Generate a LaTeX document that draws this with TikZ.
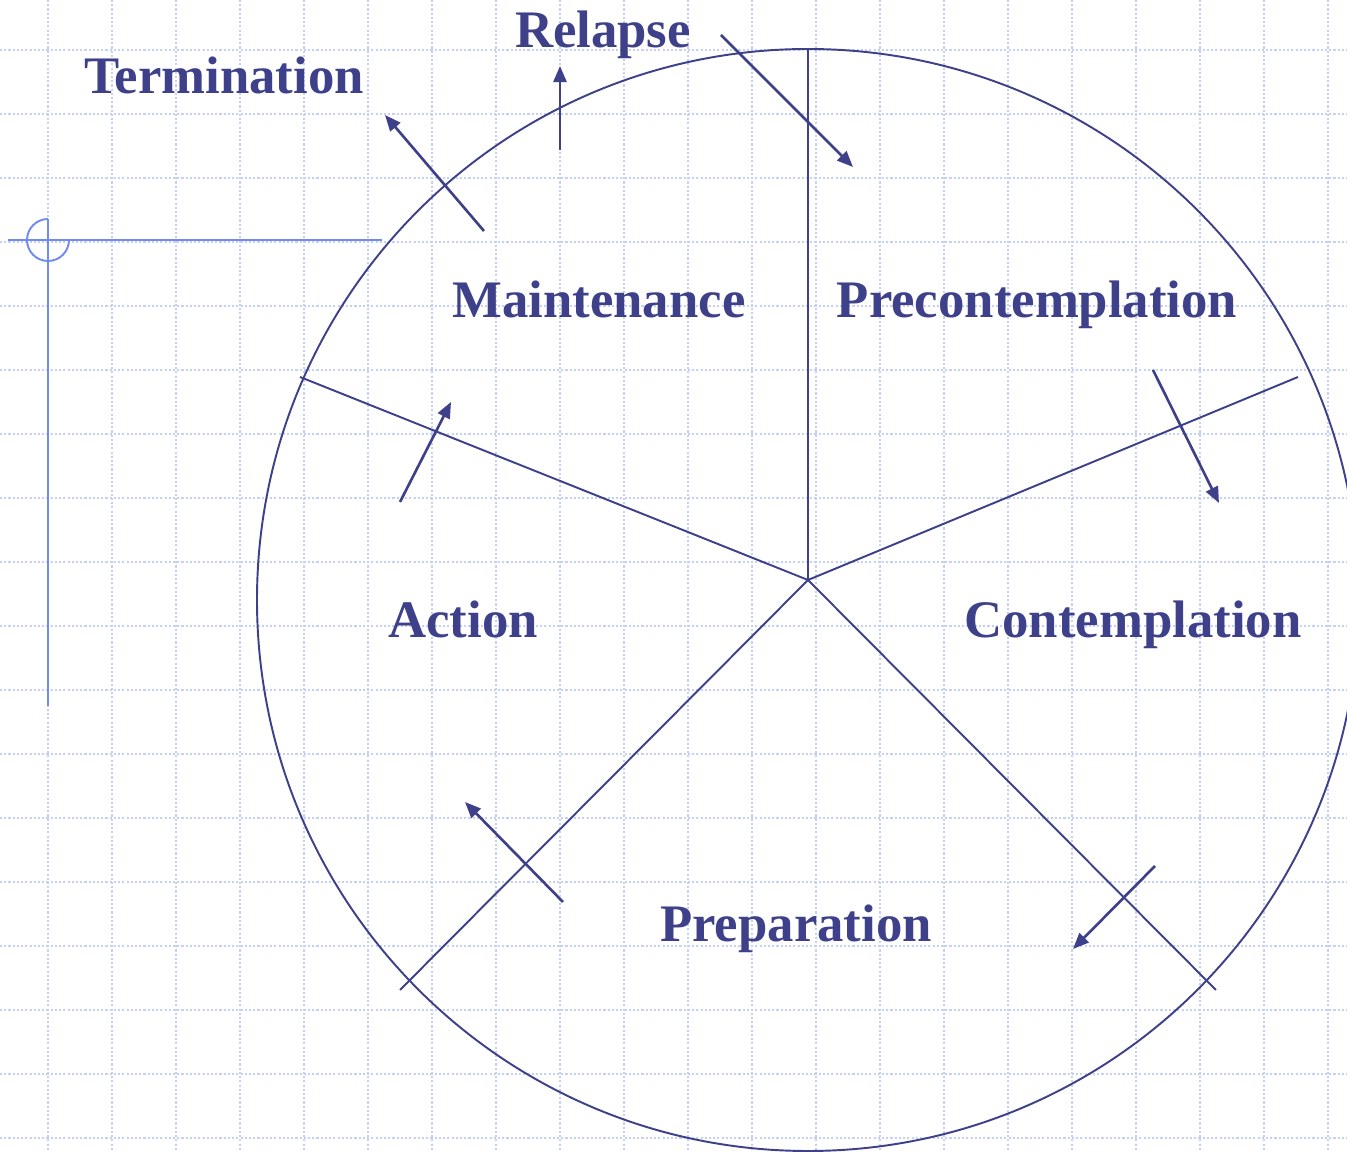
\documentclass[tikz,border=0pt]{standalone}
\usepackage{fontspec}
\setmainfont{Liberation Serif}
\usetikzlibrary{arrows.meta}
\definecolor{navy}{HTML}{3E418A}
\definecolor{gridblue}{HTML}{C4D0F8}
\definecolor{guide}{HTML}{6F8CEE}
\tikzset{
  lbl/.style={font=\fontsize{15pt}{18pt}\selectfont\bfseries, text=navy, anchor=base, inner sep=0pt},
  wheel/.style={draw=navy, line width=0.55pt},
  flow/.style={draw=navy, line width=0.75pt, -{Triangle[length=0.16cm,width=0.13cm]}},
  gridline/.style={draw=gridblue, line width=0.45pt, dash pattern=on 0.6pt off 0.6pt},
  guideline/.style={draw=guide, line width=0.55pt}
}
\begin{document}
\begin{tikzpicture}[x=0.01cm,y=-0.01cm]
\useasboundingbox (0,0) rectangle (1347,1152);
\fill[white] (0,0) rectangle (1347,1152);
\begin{scope}
\clip (0,0) rectangle (1347,1152);
% grid
\foreach \gx in {48,112,...,1340} \draw[gridline] (\gx,0) -- (\gx,1152);
\foreach \gy in {50,114,...,1150} \draw[gridline] (0,\gy) -- (1347,\gy);
% guide
\draw[guideline] (8,240) -- (382,240);
\draw[guideline] (48,219) -- (48,706);
\draw[guideline] (48,219) arc[start angle=-90, end angle=-360, radius=21];
% wheel
\coordinate (hub) at (808,580);
\coordinate (s1) at (808,50);
\coordinate (s2) at (1298,377);
\coordinate (s3) at (1216,990);
\coordinate (s4) at (400,990);
\coordinate (s5) at (300,377);
\draw[wheel] (808,600) circle[radius=551];
\foreach \s in {s1,s2,s3,s4,s5} \draw[wheel] (hub) -- (\s);
\end{scope}
% labels
\node[lbl] (relapse) at (603,48) {Relapse};
\node[lbl] (term) at (224,94) {Termination};
\node[lbl] (maint) at (599,318) {Maintenance};
\node[lbl] (precon) at (1037,318) {Precontemplation};
\node[lbl] (action) at (463,638) {Action};
\node[lbl] (contem) at (1133,638) {Contemplation};
\node[lbl] (prep) at (796,942) {Preparation};
% arrows
\coordinate (a1s) at (560,150); \coordinate (a1e) at (560,66);
\coordinate (a2s) at (484,231); \coordinate (a2e) at (385,115);
\coordinate (a3s) at (721,35);  \coordinate (a3e) at (853,167);
\coordinate (a4s) at (1153,370); \coordinate (a4e) at (1219,503);
\coordinate (a5s) at (1155,866); \coordinate (a5e) at (1073,949);
\coordinate (a6s) at (563,902); \coordinate (a6e) at (465,802);
\coordinate (a7s) at (400,502); \coordinate (a7e) at (451,402);
\foreach \a in {1,...,7} \draw[flow] (a\a s) -- (a\a e);
\end{tikzpicture}
\end{document}
